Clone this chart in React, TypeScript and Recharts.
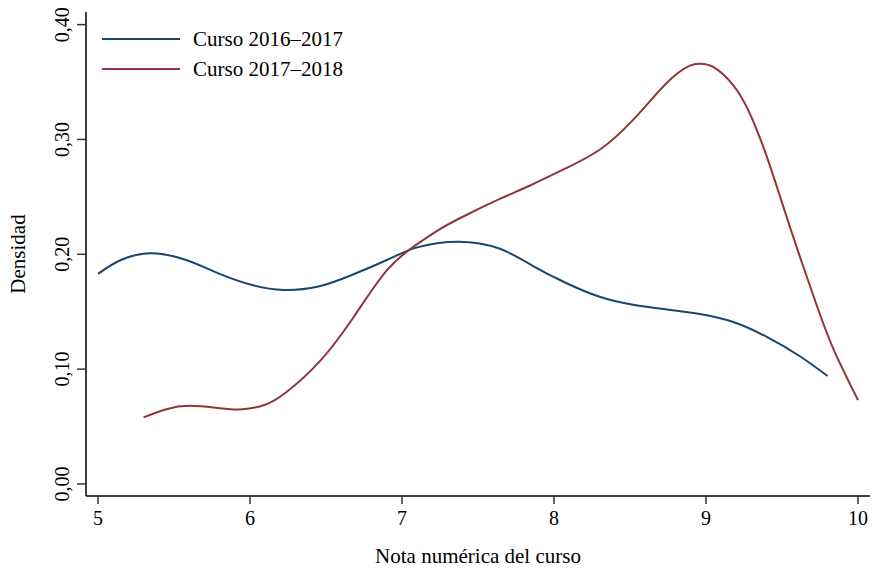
import { LineChart, Line, XAxis, YAxis } from "recharts";

const xTicks = [5, 6, 7, 8, 9, 10];
const yTicks = [0, 0.1, 0.2, 0.3, 0.4];

const seriesNames = ["Curso 2016–2017", "Curso 2017–2018"];
const seriesColors = ["#1a476f", "#90353b"];

// Curso 2016–2017
const notas1617 = [
  5.0, 5.15, 5.35, 5.58, 5.8, 6.02, 6.22, 6.45, 6.67, 6.9, 7.1, 7.37, 7.64,
  7.86, 8.08, 8.3, 8.52, 8.74, 8.96, 9.18, 9.4, 9.62, 9.8,
];
const densidad1617 = [
  0.183, 0.195, 0.201, 0.195, 0.183, 0.173, 0.169, 0.172, 0.182, 0.195, 0.206,
  0.211, 0.205, 0.19, 0.175, 0.163, 0.156, 0.152, 0.148, 0.141, 0.128, 0.111,
  0.094,
];

// Curso 2017–2018
const notas1718 = [
  5.3, 5.45, 5.6, 5.8, 5.95, 6.1, 6.24, 6.46, 6.68, 6.9, 7.09, 7.25, 7.42, 7.64,
  7.86, 8.08, 8.3, 8.52, 8.74, 8.89, 8.96, 9.05, 9.18, 9.29, 9.4, 9.5, 9.62,
  9.73, 9.84, 10.0,
];
const densidad1718 = [
  0.058, 0.065, 0.068, 0.066, 0.065, 0.069, 0.08, 0.107, 0.145, 0.186, 0.208,
  0.222, 0.234, 0.248, 0.261, 0.275, 0.291, 0.317, 0.349, 0.364, 0.366, 0.363,
  0.347, 0.322, 0.285, 0.245, 0.197, 0.155, 0.117, 0.073,
];

const data1617 = notas1617.map((x, i) => ({ x, y: densidad1617[i] }));
const data1718 = notas1718.map((x, i) => ({ x, y: densidad1718[i] }));

const FONT = "'Liberation Serif', 'Times New Roman', serif";

const YTick = (props: any) => {
  const { y, payload } = props;
  const x = 62;
  return (
    <text
      x={x}
      y={y}
      transform={`rotate(-90, ${x}, ${y})`}
      textAnchor="middle"
      dominantBaseline="central"
      fontFamily={FONT}
      fontSize={20}
      fill="#000"
    >
      {payload.value.toFixed(2).replace(".", ",")}
    </text>
  );
};

const YLabel = (props: any) => {
  const { viewBox } = props;
  const cy = viewBox.y + viewBox.height / 2;
  const x = 18;
  return (
    <text
      x={x}
      y={cy}
      transform={`rotate(-90, ${x}, ${cy})`}
      textAnchor="middle"
      dominantBaseline="central"
      fontFamily={FONT}
      fontSize={21}
      fill="#000"
    >
      Densidad
    </text>
  );
};

// legend drawn over the plot, top-left, like Stata's ring(0) pos(11)
function ChartLegend() {
  return (
    <div
      style={{
        position: "absolute",
        top: 24,
        left: 102,
        fontFamily: FONT,
        fontSize: 21,
        color: "#000",
      }}
    >
      {seriesNames.map((name, i) => (
        <div
          key={name}
          style={{ display: "flex", alignItems: "center", height: 30 }}
        >
          <svg width={80} height={4} style={{ marginRight: 11 }}>
            <line x1={0} y1={2} x2={78} y2={2} stroke={seriesColors[i]} strokeWidth={2} />
          </svg>
          <span>{name}</span>
        </div>
      ))}
    </div>
  );
}

export default function App() {
  return (
    <div style={{ position: "absolute", top: 0, left: 0, background: "#fff" }}>
      <LineChart
        width={872}
        height={569}
        margin={{ top: 12, right: 2, left: 0, bottom: 0 }}
      >
        <XAxis
          type="number"
          dataKey="x"
          domain={[4.921, 10.079]}
          ticks={xTicks}
          allowDataOverflow
          height={73}
          tickSize={8}
          tickMargin={7}
          axisLine={{ stroke: "#000", strokeWidth: 1.5 }}
          tickLine={{ stroke: "#333", strokeWidth: 1.5 }}
          tick={{ fontFamily: FONT, fontSize: 20, fill: "#000" }}
          label={{
            value: "Nota numérica del curso",
            position: "insideBottom",
            offset: 6,
            fontFamily: FONT,
            fontSize: 21,
            fill: "#000",
          }}
        />
        <YAxis
          type="number"
          domain={[-0.0105, 0.411]}
          ticks={yTicks}
          allowDataOverflow
          width={86}
          tickSize={9}
          axisLine={{ stroke: "#000", strokeWidth: 1.5 }}
          tickLine={{ stroke: "#333", strokeWidth: 1.5 }}
          tick={<YTick />}
          label={<YLabel />}
        />
        <Line
          data={data1617}
          dataKey="y"
          name={seriesNames[0]}
          type="natural"
          stroke={seriesColors[0]}
          strokeWidth={2}
          dot={false}
          isAnimationActive={false}
        />
        <Line
          data={data1718}
          dataKey="y"
          name={seriesNames[1]}
          type="natural"
          stroke={seriesColors[1]}
          strokeWidth={2}
          dot={false}
          isAnimationActive={false}
        />
      </LineChart>
      <ChartLegend />
    </div>
  );
}
